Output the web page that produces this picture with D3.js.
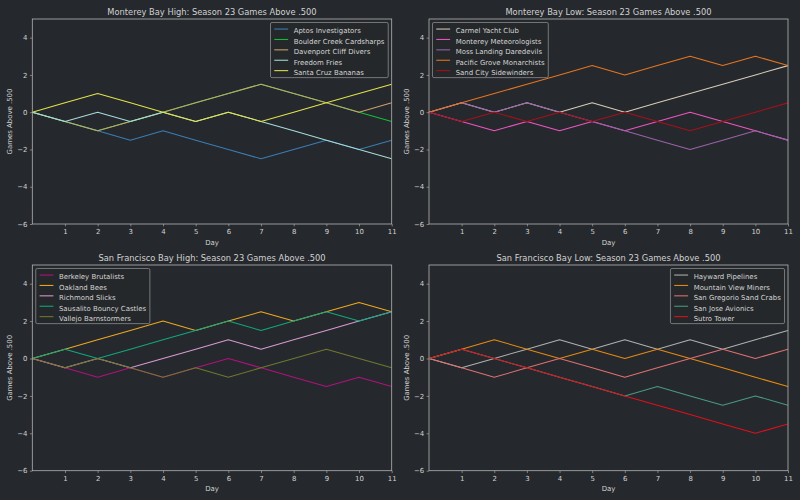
<!DOCTYPE html>
<html>
<head>
<meta charset="utf-8">
<script src="https://cdn.jsdelivr.net/npm/d3@7"></script>
<style>
  body { margin: 0; background: #25282c; }
  svg { display: block; font-family: "DejaVu Sans", sans-serif; }
</style>
</head>
<body>
<div id="chart"></div>
<script>
// days on the x axis
const days = [0, 1, 2, 3, 4, 5, 6, 7, 8, 9, 10, 11];
const yTicks = [-6, -4, -2, 0, 2, 4];
const xTicks = [1, 2, 3, 4, 5, 6, 7, 8, 9, 10, 11];

// Monterey Bay High
const mbhTeams = ["Aptos Investigators", "Boulder Creek Cardsharps", "Davenport Cliff Divers", "Freedom Fries", "Santa Cruz Bananas"];
const mbhColors = ["#3a7db5", "#12c035", "#c9a46c", "#a6dcd8", "#e2e24a"];
const mbhValues = [
  [0, -0.5, -1, -1.5, -1, -1.5, -2, -2.5, -2, -1.5, -2, -1.5],
  [0, -0.5, -1, -0.5, 0, 0.5, 1, 1.5, 1, 0.5, 0, -0.5],
  [0, -0.5, -1, -0.5, 0, 0.5, 1, 1.5, 1, 0.5, 0, 0.5],
  [0, -0.5, 0, -0.5, 0, -0.5, 0, -0.5, -1, -1.5, -2, -2.5],
  [0, 0.5, 1, 0.5, 0, -0.5, 0, -0.5, 0, 0.5, 1, 1.5]
];

// Monterey Bay Low
const mblTeams = ["Carmel Yacht Club", "Monterey Meteorologists", "Moss Landing Daredevils", "Pacific Grove Monarchists", "Sand City Sidewinders"];
const mblColors = ["#d8cbb8", "#ee55c0", "#9a62aa", "#e8751e", "#a8101a"];
const mblValues = [
  [0, 0.5, 0, 0.5, 0, 0.5, 0, 0.5, 1, 1.5, 2, 2.5],
  [0, -0.5, -1, -0.5, -1, -0.5, -1, -0.5, 0, -0.5, -1, -1.5],
  [0, 0.5, 0, 0.5, 0, -0.5, -1, -1.5, -2, -1.5, -1, -1.5],
  [0, 0.5, 1, 1.5, 2, 2.5, 2, 2.5, 3, 2.5, 3, 2.5],
  [0, -0.5, 0, -0.5, 0, -0.5, 0, -0.5, -1, -0.5, 0, 0.5]
];

// San Francisco Bay High
const sfhTeams = ["Berkeley Brutalists", "Oakland Bees", "Richmond Slicks", "Sausalito Bouncy Castles", "Vallejo Barnstormers"];
const sfhColors = ["#b0127e", "#f0a820", "#d89ad0", "#10a880", "#70782e"];
const sfhValues = [
  [0, -0.5, -1, -0.5, -1, -0.5, 0, -0.5, -1, -1.5, -1, -1.5],
  [0, 0.5, 1, 1.5, 2, 1.5, 2, 2.5, 2, 2.5, 3, 2.5],
  [0, -0.5, 0, -0.5, 0, 0.5, 1, 0.5, 1, 1.5, 2, 2.5],
  [0, 0.5, 0, 0.5, 1, 1.5, 2, 1.5, 2, 2.5, 2, 2.5],
  [0, -0.5, 0, -0.5, -1, -0.5, -1, -0.5, 0, 0.5, 0, -0.5]
];

// San Francisco Bay Low
const sflTeams = ["Hayward Pipelines", "Mountain View Miners", "San Gregorio Sand Crabs", "San Jose Avionics", "Sutro Tower"];
const sflColors = ["#b0b0b0", "#e88a10", "#e07070", "#4a9a80", "#e0101a"];
const sflValues = [
  [0, -0.5, 0, 0.5, 1, 0.5, 1, 0.5, 1, 0.5, 1, 1.5],
  [0, 0.5, 1, 0.5, 0, 0.5, 0, 0.5, 0, -0.5, -1, -1.5],
  [0, -0.5, -1, -0.5, 0, -0.5, -1, -0.5, 0, 0.5, 0, 0.5],
  [0, 0.5, 0, -0.5, -1, -1.5, -2, -1.5, -2, -2.5, -2, -2.5],
  [0, 0.5, 0, -0.5, -1, -1.5, -2, -2.5, -3, -3.5, -4, -3.5]
];

const panels = [
  { title: "Monterey Bay High: Season 23 Games Above .500", teams: mbhTeams, colors: mbhColors, values: mbhValues, box: [32.3, 19, 391.7, 224], legend: "right" },
  { title: "Monterey Bay Low: Season 23 Games Above .500", teams: mblTeams, colors: mblColors, values: mblValues, box: [429, 19, 788, 224], legend: "left" },
  { title: "San Francisco Bay High: Season 23 Games Above .500", teams: sfhTeams, colors: sfhColors, values: sfhValues, box: [32.3, 265, 391.7, 470.7], legend: "left" },
  { title: "San Francisco Bay Low: Season 23 Games Above .500", teams: sflTeams, colors: sflColors, values: sflValues, box: [429, 265, 788, 470.7], legend: "right" }
];

const W = 800, H = 500;
const fg = "#d2d2d2", edge = "#b4b4b4";
const fs = 6.94, titleFs = 8.3;

const svg = d3.select("#chart").append("svg").attr("width", W).attr("height", H);
svg.append("rect").attr("width", W).attr("height", H).attr("fill", "#25282c");

panels.forEach(p => {
  const [x0, y0, x1, y1] = p.box;
  const x = d3.scaleLinear().domain([0, 11]).range([x0, x1]);
  const y = d3.scaleLinear().domain([-6, 5]).range([y1, y0]);
  const g = svg.append("g");

  const xAxis = g.append("g").attr("transform", `translate(0,${y1})`)
    .call(d3.axisBottom(x).tickValues(xTicks).tickSize(2.4).tickPadding(2.5).tickFormat(d3.format("d")));
  const yAxis = g.append("g").attr("transform", `translate(${x0},0)`)
    .call(d3.axisLeft(y).tickValues(yTicks).tickSize(2.4).tickPadding(2.5).tickFormat(d => d < 0 ? "\u2212" + Math.abs(d) : d));
  [xAxis, yAxis].forEach(a => {
    a.select(".domain").remove();
    a.selectAll("line").attr("stroke", edge).attr("stroke-width", 0.6);
    a.selectAll("text").attr("fill", fg).style("font-size", fs + "px").style("font-family", "DejaVu Sans");
  });

  const line = d3.line().x((d, i) => x(days[i])).y(d => y(d));
  const clipId = "clip" + Math.round(x0) + Math.round(y0);
  g.append("clipPath").attr("id", clipId).append("rect")
    .attr("x", x0).attr("y", y0).attr("width", x1 - x0).attr("height", y1 - y0);
  g.append("g").attr("clip-path", `url(#${clipId})`).selectAll("path").data(p.values).join("path")
    .attr("d", line).attr("fill", "none")
    .attr("stroke", (d, i) => p.colors[i]).attr("stroke-width", 1.05)
    .attr("stroke-linejoin", "round");

  g.append("rect").attr("x", x0).attr("y", y0).attr("width", x1 - x0).attr("height", y1 - y0)
    .attr("fill", "none").attr("stroke", edge).attr("stroke-width", 0.8);

  g.append("text").attr("x", (x0 + x1) / 2).attr("y", y0 - 4.5).attr("text-anchor", "middle")
    .attr("fill", fg).style("font-size", titleFs + "px").text(p.title);
  g.append("text").attr("x", (x0 + x1) / 2).attr("y", y1 + 20.5).attr("text-anchor", "middle")
    .attr("fill", fg).style("font-size", fs + "px").text("Day");
  g.append("text").attr("transform", `translate(${x0 - 20},${(y0 + y1) / 2}) rotate(-90)`)
    .attr("text-anchor", "middle").attr("fill", fg).style("font-size", fs + "px").text("Games Above .500");

  // legend
  const pad = 0.4 * fs, handle = 2 * fs, hpad = 0.8 * fs, rowH = 10.4, axPad = 0.5 * fs;
  const lg = g.append("g");
  const box = lg.append("rect");
  const labels = lg.selectAll("text").data(p.teams).join("text")
    .attr("fill", fg).style("font-size", fs + "px").text(d => d);
  let tw = 0;
  labels.each(function () { tw = Math.max(tw, this.getComputedTextLength()); });
  const bw = pad * 2 + handle + hpad + tw + 2, bh = pad * 2 + rowH * p.teams.length - 2.4;
  const bx = p.legend === "right" ? x1 - axPad - bw : x0 + axPad;
  const by = y0 + axPad;
  box.attr("x", bx).attr("y", by).attr("width", bw).attr("height", bh).attr("rx", 1.5)
    .attr("fill", "#25282c").attr("fill-opacity", 0.8).attr("stroke", "#8a8c8f").attr("stroke-width", 0.8);
  labels.attr("x", bx + pad + 1 + handle + hpad).attr("y", (d, i) => by + pad + 5.8 + i * rowH + 2.4);
  lg.selectAll("line").data(p.teams).join("line")
    .attr("x1", bx + pad + 1).attr("x2", bx + pad + 1 + handle)
    .attr("y1", (d, i) => by + pad + 3.8 + i * rowH).attr("y2", (d, i) => by + pad + 3.8 + i * rowH)
    .attr("stroke", (d, i) => p.colors[i]).attr("stroke-width", 1.05);
});
</script>
</body>
</html>
